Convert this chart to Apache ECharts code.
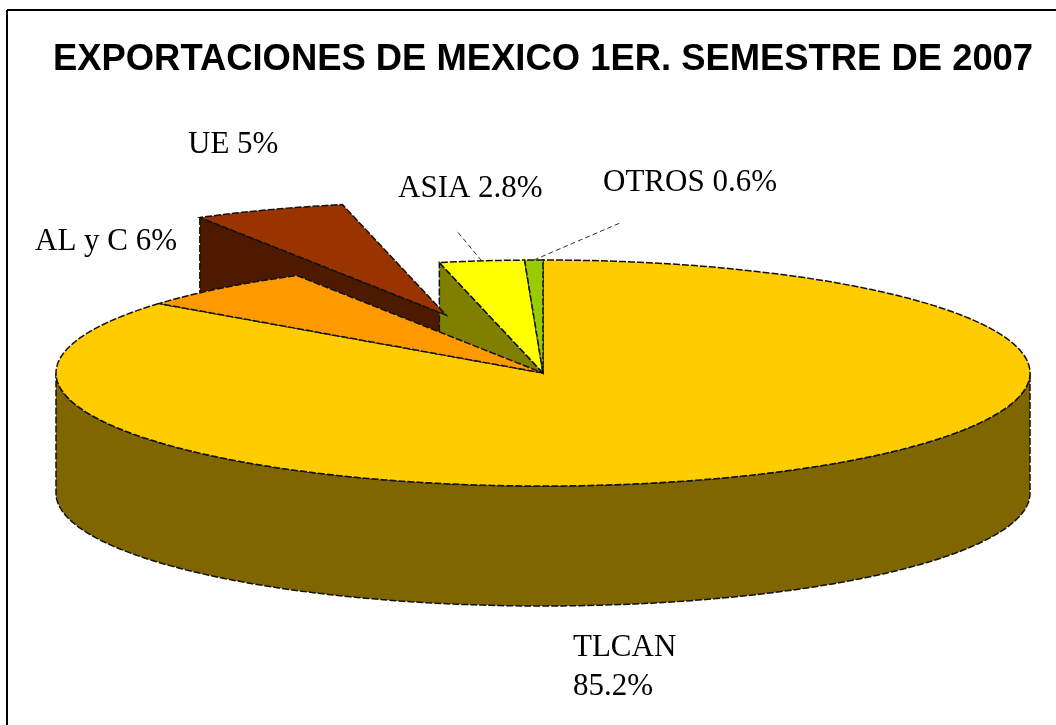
<!DOCTYPE html>
<html>
<head>
<meta charset="utf-8">
<title>Exportaciones de Mexico</title>
<style>
  html, body { margin: 0; padding: 0; background: #fff; }
  #chart { width: 1056px; height: 725px; }
</style>
</head>
<body>
<div id="chart"></div>
<script src="https://cdn.jsdelivr.net/npm/echarts@6/dist/echarts.min.js"></script>
<script>
// data
var categories = ['TLCAN', 'AL y C', 'UE', 'ASIA', 'OTROS'];
var shares = [85.2, 6, 5, 2.8, 0.6];

// look of the slices
var topColors = ['#FFCC00', '#FF9900', '#993300', '#FFFF00', '#99CC00'];
var sideColors = ['#806600', '#804D00', '#4D1A00', '#808000', '#4D6600'];
var cx = 543, cy = 373, rx = 487, ry = 113, depth = 120, wallDepth = 90;
var explode = { 'UE': [-97, -58] };
var labelPos = {
  'TLCAN': [573, 628],
  'AL y C': [35, 222],
  'UE': [188, 125],
  'ASIA': [398, 169],
  'OTROS': [603, 163]
};
var leaderEnd = { 'ASIA': [456, 230], 'OTROS': [620, 223] };
var edge = { stroke: '#111', lineWidth: 1.5, lineDash: [7, 2] };

var total = shares.reduce(function (a, b) { return a + b; }, 0);
var slices = [];
var acc = 0;
shares.forEach(function (v, i) {
  var off = explode[categories[i]] || [0, 0];
  // angles clockwise from 12 o'clock
  slices.push({ a0: acc / total * 2 * Math.PI, a1: (acc + v) / total * 2 * Math.PI, ox: off[0], oy: off[1] });
  acc += v;
});

function rim(s, a) {
  return [cx + s.ox + rx * Math.sin(a), cy + s.oy - ry * Math.cos(a)];
}
function arc(s, a0, a1) {
  var pts = [];
  var n = Math.max(2, Math.ceil((a1 - a0) * 60));
  for (var k = 0; k <= n; k++) pts.push(rim(s, a0 + (a1 - a0) * k / n));
  return pts;
}
function down(pts) {
  return pts.map(function (p) { return [p[0], p[1] + depth]; });
}

// outer side of the big slice, front half only
function renderSide(params) {
  var s = slices[params.dataIndex];
  var a0 = Math.max(s.a0, Math.PI / 2), a1 = Math.min(s.a1, 3 * Math.PI / 2);
  if (a1 <= a0) return null;
  var top = arc(s, a0, a1);
  return {
    type: 'polygon',
    shape: { points: top.concat(down(top).reverse()) },
    style: Object.assign({ fill: sideColors[params.dataIndex] }, edge)
  };
}
// inner cut wall, seen where a slice has been pulled out
function renderWall(params) {
  var name = categories[params.dataIndex];
  if (name !== 'UE' && name !== 'ASIA') return null;
  var s = slices[params.dataIndex];
  var c = rim(s, s.a0);
  var apex = [cx + s.ox, cy + s.oy];
  return {
    type: 'polygon',
    shape: { points: [c, apex, [apex[0], apex[1] + wallDepth], [c[0], c[1] + wallDepth]] },
    style: Object.assign({ fill: sideColors[params.dataIndex] }, edge)
  };
}
function renderTop(params) {
  var s = slices[params.dataIndex];
  return {
    type: 'polygon',
    shape: { points: [[cx + s.ox, cy + s.oy]].concat(arc(s, s.a0, s.a1)) },
    style: Object.assign({ fill: topColors[params.dataIndex] }, edge)
  };
}
function renderLabel(params) {
  var name = categories[params.dataIndex];
  var s = slices[params.dataIndex];
  var sep = name === 'TLCAN' ? '\n' : ' ';
  var children = [{
    type: 'text',
    x: labelPos[name][0],
    y: labelPos[name][1],
    style: {
      text: name + sep + shares[params.dataIndex] + '%',
      fill: '#000',
      font: '31px "Liberation Serif"',
      lineHeight: 39
    }
  }];
  if (leaderEnd[name]) {
    var p = rim(s, (s.a0 + s.a1) / 2);
    children.push({
      type: 'line',
      shape: { x1: p[0], y1: p[1], x2: leaderEnd[name][0], y2: leaderEnd[name][1] },
      style: { stroke: '#333', lineWidth: 1, lineDash: [5, 3] }
    });
  }
  return { type: 'group', children: children };
}

function customSeries(render, z) {
  return {
    type: 'custom',
    coordinateSystem: 'none',
    renderItem: render,
    data: shares,
    z: z,
    silent: true,
    animation: false
  };
}

var chart = echarts.init(document.getElementById('chart'), null, { renderer: 'canvas' });
chart.setOption({
  backgroundColor: '#fff',
  animation: false,
  title: {
    text: 'EXPORTACIONES DE MEXICO 1ER. SEMESTRE DE 2007',
    left: 48,
    top: 37,
    textStyle: { color: '#000', fontFamily: 'Liberation Sans', fontWeight: 'bold', fontSize: 36.4 }
  },
  graphic: [
    { type: 'line', shape: { x1: 7, y1: 10, x2: 1056, y2: 10 }, style: { stroke: '#000', lineWidth: 2 } },
    { type: 'line', shape: { x1: 7, y1: 10, x2: 7, y2: 725 }, style: { stroke: '#000', lineWidth: 2 } }
  ],
  series: [
    customSeries(renderSide, 1),
    customSeries(renderWall, 2),
    customSeries(renderTop, 3),
    customSeries(renderLabel, 4)
  ]
});
</script>
</body>
</html>
